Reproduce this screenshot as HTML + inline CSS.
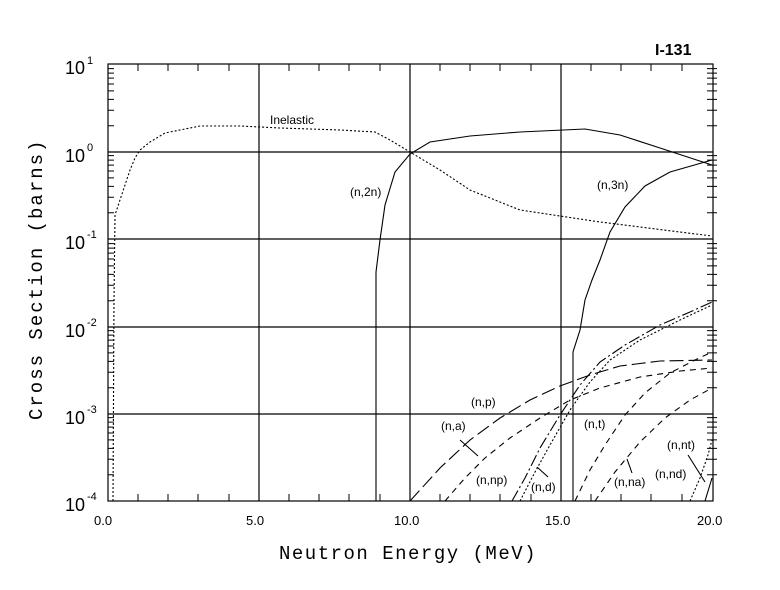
<!DOCTYPE html>
<html><head><meta charset="utf-8"><style>
body{margin:0;background:#fff}
svg{display:block}
text{font-family:"Liberation Sans",sans-serif;fill:#000}
.t{font-family:"Liberation Mono",monospace}
</style></head><body>
<svg width="780" height="590" viewBox="0 0 780 590" xmlns="http://www.w3.org/2000/svg">
<defs>
<g id="dl" stroke="#000" stroke-width="1">
<path d="M0 -26.3h6M0 -41.7h6M0 -52.6h6M0 -61.1h6M0 -68h6M0 -73.9h6M0 -78.9h6M0 -83.4h6"/>
</g>
<g id="dr" stroke="#000" stroke-width="1">
<path d="M-6 -26.3h10M-6 -41.7h10M-6 -52.6h10M-6 -61.1h10M-6 -68h10M-6 -73.9h10M-6 -78.9h10M-6 -83.4h10"/>
</g>
</defs>
<g fill="none" stroke="#000" stroke-width="1.2">
<rect x="108" y="64" width="605" height="437"/>
<path d="M108 152H713M108 239H713M108 327H713M108 414H713"/>
<path d="M259 64V501M410 64V501M561 64V501"/>
</g>
<g>
<use href="#dl" x="108" y="152"/><use href="#dl" x="108" y="239"/><use href="#dl" x="108" y="327"/><use href="#dl" x="108" y="414"/><use href="#dl" x="108" y="501"/>
<use href="#dr" x="713" y="152"/><use href="#dr" x="713" y="239"/><use href="#dr" x="713" y="327"/><use href="#dr" x="713" y="414"/><use href="#dr" x="713" y="501"/>
</g>
<path stroke="#000" stroke-width="1" fill="none" d="M138 501v-7M168 501v-7M198 501v-7M229 501v-7M289 501v-7M319 501v-7M349 501v-7M380 501v-7M440 501v-7M470 501v-7M500 501v-7M531 501v-7M591 501v-7M621 501v-7M651 501v-7M682 501v-7M138 64v7M168 64v7M198 64v7M229 64v7M289 64v7M319 64v7M349 64v7M380 64v7M440 64v7M470 64v7M500 64v7M531 64v7M591 64v7M621 64v7M651 64v7M682 64v7"/>
<g fill="none" stroke="#000" stroke-width="1.1">
<polyline stroke-dasharray="2,2" points="113,501 114,300 115,215 120,200 125,185 130,170 135,158 140,150 150,142 165,133 200,126 240,126 280,128 340,130 375,132 390,140 410,152 440,170 470,190 520,210 600,222 712,236"/>
<polyline points="376,501 376,272 380,240 385,205 395,172 410,154 430,142 470,136 520,132 585,129 620,135 660,148 712,165"/>
<polyline points="573,501 573,352 580,330 585,300 592,280 600,260 610,232 625,207 645,186 670,172 712,160"/>
<polyline stroke-dasharray="14,5" points="410,501 440,468 470,440 500,418 530,400 560,386 590,375 620,366 660,361 712,360"/>
<polyline stroke-dasharray="6,5" points="445,501 465,478 485,458 510,438 540,418 570,400 600,388 640,377 680,371 712,368"/>
<polyline stroke-dasharray="12,3,2,3" points="512,501 525,478 540,448 560,415 580,385 600,362 625,345 660,325 690,312 712,302"/>
<polyline stroke-dasharray="2,2" points="520,501 535,472 550,445 570,410 590,382 610,360 640,340 680,320 712,305"/>
<polyline stroke-dasharray="6,5" points="575,501 590,470 605,445 625,415 645,393 670,373 695,360 712,352"/>
<polyline stroke-dasharray="6,5" points="595,501 615,472 640,442 665,418 690,400 712,388"/>
<polyline stroke-dasharray="2,2" points="690,501 700,478 708,455 712,440"/>
<polyline points="705,501 712,478"/>
<path d="M460 440L478 456M537 467L548 477M627 459L632 473M688 455L705 482"/>
</g>
<g font-size="12">
<text x="270" y="124">Inelastic</text>
<text x="350" y="196">(n,2n)</text>
<text x="597" y="189">(n,3n)</text>
<text x="471" y="406">(n,p)</text>
<text x="441" y="430">(n,a)</text>
<text x="584" y="428">(n,t)</text>
<text x="476" y="484">(n,np)</text>
<text x="531" y="491">(n,d)</text>
<text x="614" y="486">(n,na)</text>
<text x="655" y="478">(n,nd)</text>
<text x="667" y="449">(n,nt)</text>
</g>
<text x="655" y="55" font-size="16" font-weight="bold">I-131</text>
<g class="t" style="font-size:13px">
<text x="94" y="525">0.0</text>
<text x="246" y="525">5.0</text>
<text x="394" y="525">10.0</text>
<text x="545" y="525">15.0</text>
<text x="697" y="525">20.0</text>
</g>
<g class="t" style="font-size:18px">
<text x="65" y="74">10</text><text x="87" y="64" style="font-size:11px">1</text>
<text x="65" y="162">10</text><text x="87" y="151" style="font-size:11px">0</text>
<text x="65" y="249">10</text><text x="87" y="238" style="font-size:11px">-1</text>
<text x="65" y="337">10</text><text x="87" y="326" style="font-size:11px">-2</text>
<text x="65" y="424">10</text><text x="87" y="413" style="font-size:11px">-3</text>
<text x="65" y="511">10</text><text x="87" y="500" style="font-size:11px">-4</text>
</g>
<text x="279" y="559" class="t" style="font-size:19px;letter-spacing:1.5px">Neutron Energy (MeV)</text>
<text transform="translate(42,420) rotate(-90)" class="t" style="font-size:19px;letter-spacing:2px">Cross Section (barns)</text>
</svg>
</body></html>
